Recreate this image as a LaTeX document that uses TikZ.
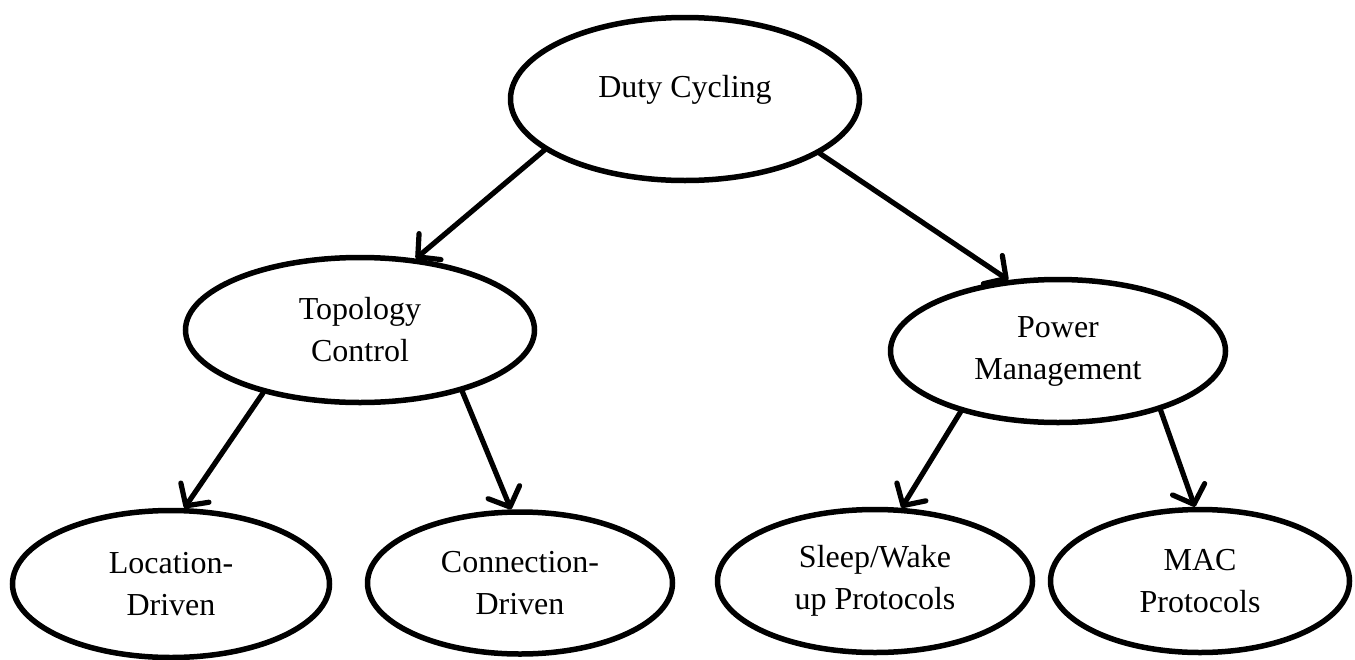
\documentclass[tikz,border=0pt]{standalone}
\usepackage{fontspec}
\setmainfont{Liberation Serif}
\usetikzlibrary{shapes.geometric,arrows.meta}
\begin{document}
\begin{tikzpicture}[x=0.5pt,y=-0.5pt,
  oval/.style={ellipse, draw=black, line width=2.75pt, inner sep=0pt,
    align=center, font=\fontsize{16pt}{21pt}\selectfont},
  link/.style={line width=2.6pt, line cap=round, line join=round,
    -{Straight Barb[length=8pt,width=17pt,round]}}]
\useasboundingbox (0,0) rectangle (1355,659);

% root
\node[oval, minimum width=174.5pt, minimum height=81.5pt,
      text height=11.5pt, text depth=13pt] (dc) at (685,99) {Duty Cycling};

% second level
\node[oval, minimum width=174.5pt, minimum height=72.5pt] (tc) at (360,330) {Topology\\Control};
\node[oval, minimum width=167.5pt, minimum height=71.5pt] (pm) at (1058,351) {Power\\Management};

% leaves
\node[oval, minimum width=158.5pt, minimum height=73.5pt] (ld) at (171,584) {Location-\\Driven};
\node[oval, minimum width=152.5pt, minimum height=71pt] (cd) at (520,583) {Connection-\\Driven};
\node[oval, minimum width=157.5pt, minimum height=71.5pt] (sw) at (875,581) {Sleep/Wake\\up Protocols};
\node[oval, minimum width=149.5pt, minimum height=71.5pt] (mac) at (1200,581) {MAC\\Protocols};

% connectors
\draw[link] (dc.200) -- (tc.52);
\draw[link] (dc.338) -- (pm.125);
\draw[link] (tc.213) -- (ld.80);
\draw[link] (tc.329) -- (cd.97);
\draw[link] (pm.212) -- (sw.70);
\draw[link] (pm.330) -- (mac.94);
\end{tikzpicture}
\end{document}
